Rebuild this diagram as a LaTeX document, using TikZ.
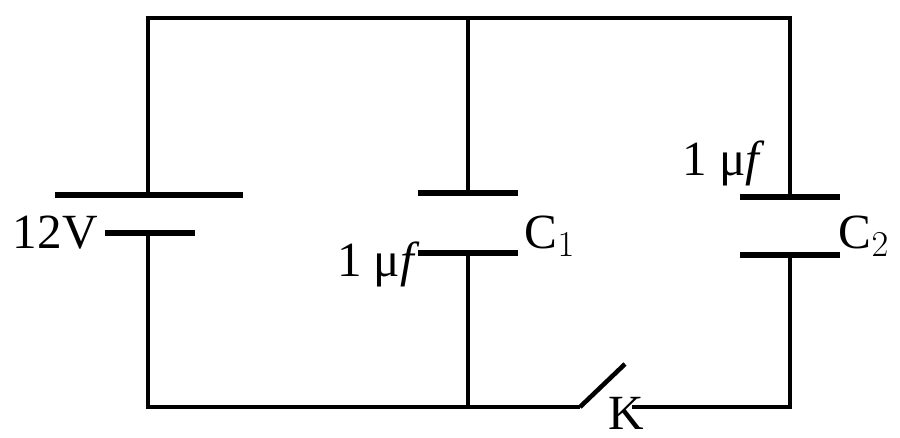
\documentclass[tikz,border=0pt]{standalone}
\usepackage{fontspec}
\setmainfont{Liberation Serif}
\usetikzlibrary{positioning}
\begin{document}
\begin{tikzpicture}[x=0.02cm,y=-0.02cm,
wire/.style ={line width=2.6pt},
plate/.style ={line width=3.2pt},
lbl/.style ={inner sep=0pt, font=\fontsize{28}{28}\selectfont}
]
\useasboundingbox (0,0) rectangle (900,438);
%corners
\path (148,18) coordinate (tl) (468,18) coordinate (tm) (790,18) coordinate (tr)
(148,407) coordinate (bl) (468,407) coordinate (bm) (790,407) coordinate (br);
%battery
\path (55,195) coordinate (b1l) (243,195) coordinate (b1r)
(105,233) coordinate (b2l) (195,233) coordinate (b2r)
(148,195) coordinate (bp) (148,233) coordinate (bn);
\draw[wire] (bp) -- (tl) -- (tr) -- (790,197) coordinate (c2t);
\draw[wire] (bn) -- (bl) -- (bm) -- (580,407) coordinate (ka);
\draw[wire] (ka) -- (625,364) coordinate (kb);
\draw[wire] (632,407) coordinate (kc) -- (br) -- (790,255) coordinate (c2b);
\draw[plate] (b1l) -- (b1r);
\draw[plate] (b2l) -- (b2r);
\node[lbl, left=4pt of b2l] (emf) {12V};
%C1
\draw[wire] (tm) -- (468,193) coordinate (c1t);
\draw[wire] (bm) -- (468,253) coordinate (c1b);
\draw[plate] (418,193) -- (518,193);
\draw[plate] (418,253) coordinate (c1bl) -- (518,253);
\node[lbl] (c1) at (550,236) {C$_1$};
\node[lbl, anchor=east] (c1v) at (420,264) {1 μ\textit{f}};
%C2
\draw[plate] (740,197) -- (840,197);
\draw[plate] (740,255) -- (840,255);
\node[lbl] (c2) at (864,236) {C$_2$};
\node[lbl] (c2v) at (724,163) {1 μ\textit{f}};
%switch
\node[lbl] (k) at (626,413) {K};
\end{tikzpicture}
\end{document}
